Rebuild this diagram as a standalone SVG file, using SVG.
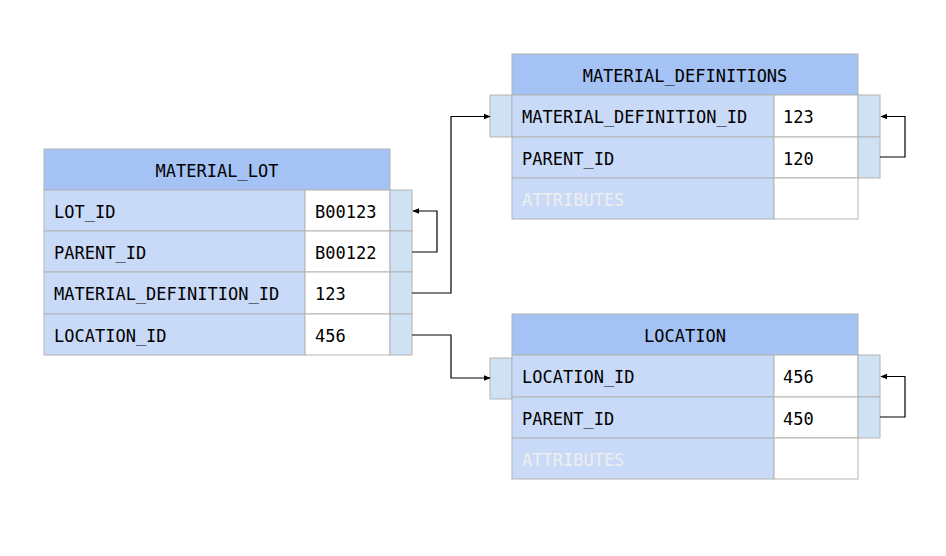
<svg xmlns="http://www.w3.org/2000/svg" width="946" height="556" viewBox="0 0 946 556">
<style>
.hd{fill:#a4c2f4;stroke:#b4b4b4;stroke-width:1}
.nm{fill:#c9daf8;stroke:#b4b4b4;stroke-width:1}
.vl{fill:#ffffff;stroke:#b4b4b4;stroke-width:1}
.pt{fill:#cfe2f3;stroke:#b4b4b4;stroke-width:1}
text{font-family:"DejaVu Sans Mono","Liberation Mono",monospace;font-size:17px;fill:#000}
.c{text-anchor:middle}
.dim{fill:#eeeeee}
.ln{fill:none;stroke:#000;stroke-width:1.2}
</style>
<defs>
<marker id="ah" viewBox="0 0 10 10" refX="9" refY="5" markerWidth="7" markerHeight="7" orient="auto" markerUnits="userSpaceOnUse">
<path d="M0,1 L10,5 L0,9 Z" fill="#000"/>
</marker>
</defs>
<rect width="946" height="556" fill="#fff"/>

<g id="material_lot">
<rect class="hd" x="44" y="149" width="346" height="41"/>
<text class="c" x="217" y="177">MATERIAL_LOT</text>
<rect class="nm" x="44" y="190" width="261" height="41"/>
<rect class="vl" x="305" y="190" width="85" height="41"/>
<rect class="pt" x="390" y="190" width="22" height="41"/>
<text x="54" y="218">LOT_ID</text>
<text x="315" y="218">B00123</text>
<rect class="nm" x="44" y="231" width="261" height="41"/>
<rect class="vl" x="305" y="231" width="85" height="41"/>
<rect class="pt" x="390" y="231" width="22" height="41"/>
<text x="54" y="259">PARENT_ID</text>
<text x="315" y="259">B00122</text>
<rect class="nm" x="44" y="272" width="261" height="42"/>
<rect class="vl" x="305" y="272" width="85" height="42"/>
<rect class="pt" x="390" y="272" width="22" height="42"/>
<text x="54" y="300">MATERIAL_DEFINITION_ID</text>
<text x="315" y="300">123</text>
<rect class="nm" x="44" y="314" width="261" height="41"/>
<rect class="vl" x="305" y="314" width="85" height="41"/>
<rect class="pt" x="390" y="314" width="22" height="41"/>
<text x="54" y="342">LOCATION_ID</text>
<text x="315" y="342">456</text>
</g>

<g id="material_definitions">
<rect class="hd" x="512" y="54" width="346" height="41"/>
<text class="c" x="685" y="82">MATERIAL_DEFINITIONS</text>
<rect class="pt" x="490" y="95" width="22" height="42"/>
<rect class="nm" x="512" y="95" width="262" height="42"/>
<rect class="vl" x="774" y="95" width="84" height="42"/>
<rect class="pt" x="858" y="95" width="22" height="42"/>
<text x="522" y="123">MATERIAL_DEFINITION_ID</text>
<text x="783" y="123">123</text>
<rect class="nm" x="512" y="137" width="262" height="41"/>
<rect class="vl" x="774" y="137" width="84" height="41"/>
<rect class="pt" x="858" y="137" width="22" height="41"/>
<text x="522" y="165">PARENT_ID</text>
<text x="783" y="165">120</text>
<rect class="nm" x="512" y="178" width="262" height="41"/>
<rect class="vl" x="774" y="178" width="84" height="41"/>
<text class="dim" x="522" y="206">ATTRIBUTES</text>
</g>

<g id="location">
<rect class="hd" x="512" y="314" width="346" height="41"/>
<text class="c" x="685" y="342">LOCATION</text>
<rect class="pt" x="490" y="358" width="22" height="41"/>
<rect class="nm" x="512" y="355" width="262" height="42"/>
<rect class="vl" x="774" y="355" width="84" height="42"/>
<rect class="pt" x="858" y="355" width="22" height="42"/>
<text x="522" y="383">LOCATION_ID</text>
<text x="783" y="383">456</text>
<rect class="nm" x="512" y="397" width="262" height="41"/>
<rect class="vl" x="774" y="397" width="84" height="41"/>
<rect class="pt" x="858" y="397" width="22" height="41"/>
<text x="522" y="425">PARENT_ID</text>
<text x="783" y="425">450</text>
<rect class="nm" x="512" y="438" width="262" height="41"/>
<rect class="vl" x="774" y="438" width="84" height="41"/>
<text class="dim" x="522" y="466">ATTRIBUTES</text>
</g>

<g id="connectors">
<path class="ln" d="M412,252 H437 V211 H413" marker-end="url(#ah)"/>
<path class="ln" d="M412,293 H451 V116.5 H490" marker-end="url(#ah)"/>
<path class="ln" d="M412,335 H451 V378 H490" marker-end="url(#ah)"/>
<path class="ln" d="M880,157 H905 V116.5 H881" marker-end="url(#ah)"/>
<path class="ln" d="M880,417 H905 V376.5 H881" marker-end="url(#ah)"/>
</g>
</svg>
